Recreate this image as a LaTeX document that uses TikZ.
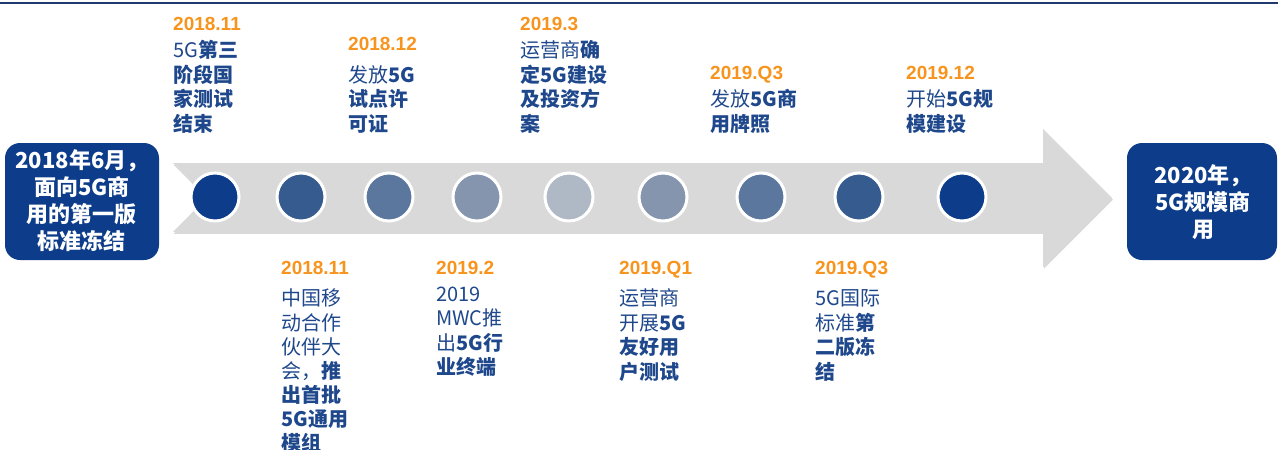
\documentclass[tikz,border=0pt]{standalone}
\usepackage{fontspec}
\setmainfont{Noto Sans CJK SC}
\newfontfamily\datefont{Liberation Sans}
\usetikzlibrary{shadows}
\definecolor{navy}{RGB}{13,61,138}
\definecolor{linenavy}{RGB}{31,56,110}
\definecolor{orangedate}{RGB}{247,148,29}
\definecolor{bluetxt}{RGB}{31,72,140}
\definecolor{arrowgray}{RGB}{217,217,217}
\definecolor{cA}{RGB}{13,61,138}
\definecolor{cB}{RGB}{54,91,143}
\definecolor{cC}{RGB}{91,119,158}
\definecolor{cD}{RGB}{133,149,174}
\definecolor{cE}{RGB}{175,184,197}
\begin{document}
\begin{tikzpicture}[x=1pt,y=-1pt,
  datelbl/.style={font=\datefont\bfseries\fontsize{19}{19}\selectfont, text=orangedate, inner sep=0pt, anchor=base west},
  bodylbl/.style={font=\fontsize{20}{24.5}\selectfont, text=bluetxt, align=left, inner sep=0pt, anchor=base west},
  endbox/.style={fill=navy, rounded corners=15pt},
  boxtxt/.style={font=\bfseries\fontsize{22}{27}\selectfont, text=white, align=center, inner sep=0pt},
  dot/.style={circle, draw=white, line width=3pt, minimum size=48pt, inner sep=0pt,
    drop shadow={opacity=0.25, shadow xshift=0.6pt, shadow yshift=-1.2pt}},
]
\useasboundingbox (0,0) rectangle (1278,450);
% top rule
\coordinate (ruleL) at (0,3);
\coordinate (ruleR) at (1278,3);
\draw[linenavy, line width=1.5pt] (ruleL) -- (ruleR);

% big arrow
\fill[arrowgray, drop shadow={opacity=0.3, shadow xshift=0.8pt, shadow yshift=-1.8pt}]
  (173,163) -- (1043,163) -- (1043,129) -- (1112,198) -- (1043,267) -- (1043,232)
  -- (173,232) -- (207,197.5) -- cycle;

% end boxes
\fill[endbox] (5,143) rectangle (159,260);
\node[boxtxt] (startbox) at (82,201) {2018年6月，\\面向5G商\\用的第一版\\标准冻结};
\fill[endbox] (1127,143) rectangle (1277,260);
\node[boxtxt] (endtxt) at (1203,202.5) {2020年，\\5G规模商\\用};

% dots
\node[dot, fill=cA] (d1) at (215,197) {};
\node[dot, fill=cB] (d2) at (301,197) {};
\node[dot, fill=cC] (d3) at (389,197) {};
\node[dot, fill=cD] (d4) at (477,197) {};
\node[dot, fill=cE] (d5) at (569,197) {};
\node[dot, fill=cD] (d6) at (663,197) {};
\node[dot, fill=cC] (d7) at (761,197) {};
\node[dot, fill=cB] (d8) at (859,197) {};
\node[dot, fill=cA] (d9) at (962,197) {};

% top labels (anchor = baseline of last line)
\node[datelbl] (t1d) at (173,30.5) {2018.11};
\node[bodylbl] (t1) at (173,131) {5G\textbf{第三}\\\textbf{阶段国}\\\textbf{家测试}\\\textbf{结束}};
\node[datelbl] (t2d) at (348,50.5) {2018.12};
\node[bodylbl] (t2) at (348,131) {发放\textbf{5G}\\\textbf{试点许}\\\textbf{可证}};
\node[datelbl] (t3d) at (520,30.5) {2019.3};
\node[bodylbl] (t3) at (520,131) {运营商\textbf{确}\\\textbf{定5G建设}\\\textbf{及投资方}\\\textbf{案}};
\node[datelbl] (t4d) at (710,79.5) {2019.Q3};
\node[bodylbl] (t4) at (710,131) {发放\textbf{5G商}\\\textbf{用牌照}};
\node[datelbl] (t5d) at (906,79.5) {2019.12};
\node[bodylbl] (t5) at (906,131) {开始\textbf{5G规}\\\textbf{模建设}};

% bottom labels
\node[datelbl] (b1d) at (281,274) {2018.11};
\node[bodylbl, font=\fontsize{20}{24.1}\selectfont] (b1) at (281,450.5) {中国移\\动合作\\伙伴大\\会，\textbf{推}\\\textbf{出首批}\\\textbf{5G通用}\\\textbf{模组}};
\node[datelbl] (b2d) at (436,274) {2019.2};
\node[bodylbl] (b2) at (436,374.5) {2019\\MWC推\\出\textbf{5G行}\\\textbf{业终端}};
\node[datelbl] (b3d) at (619,274) {2019.Q1};
\node[bodylbl] (b3) at (619,379) {运营商\\开展\textbf{5G}\\\textbf{友好用}\\\textbf{户测试}};
\node[datelbl] (b4d) at (815,274) {2019.Q3};
\node[bodylbl] (b4) at (815,379) {5G国际\\标准\textbf{第}\\\textbf{二版冻}\\\textbf{结}};
\end{tikzpicture}
\end{document}
